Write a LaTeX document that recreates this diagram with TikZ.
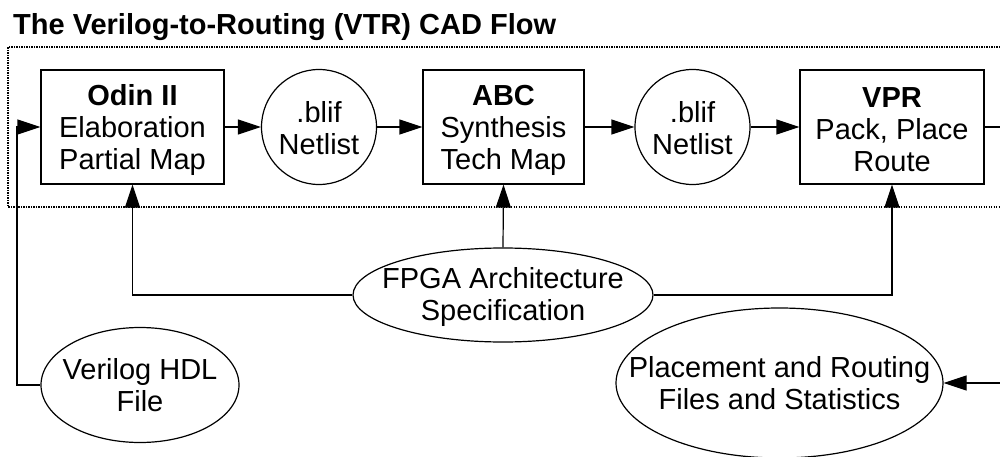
\documentclass[tikz,border=0pt]{standalone}
\usepackage{fontspec}
\setmainfont{Liberation Sans}
\usetikzlibrary{arrows.meta,shapes.geometric}
\begin{document}
\begin{tikzpicture}[x=1pt,y=-1pt,
  every node/.style={inner sep=0pt, align=center, font=\fontsize{29}{32.5}\selectfont},
  every label/.style={inner sep=0pt, align=center, font=\fontsize{29}{32}\selectfont},
  procbox/.style={draw, line width=1.2pt, rectangle, minimum height=114pt},
  filecirc/.style={draw, line width=1.2pt, circle, minimum size=115pt},
  fileell/.style={draw, line width=1.2pt, ellipse},
  conn/.style={line width=1.2pt, -{Triangle[length=23pt,width=15pt]}},
  group/.style={draw=black, line width=1.1pt, dash pattern=on 1.1pt off 1.4pt}
]
\useasboundingbox (0,0) rectangle (1000,457);
\clip (0,0) rectangle (1000,457);
\fill[white] (0,0) rectangle (1000,457);

\node[anchor=base west, font=\fontsize{29}{32}\selectfont\bfseries] (title) at (13,35) {The Verilog-to-Routing (VTR) CAD Flow};

\draw[group] (1020,47) -- (8,47) -- (8,207) -- (1020,207);

\node[procbox, minimum width=183pt, label={[yshift=-3pt]center:\textbf{Odin II}\\Elaboration\\Partial Map}] (odin) at (132.5,127) {};
\node[filecirc, label={[yshift=-1pt]center:.blif\\Netlist}] (blif1) at (319,127) {};
\node[procbox, minimum width=161pt, label={[yshift=-3pt]center:\textbf{ABC}\\Synthesis\\Tech Map}] (abc) at (503.5,127) {};
\node[filecirc, label={[yshift=-1pt]center:.blif\\Netlist}] (blif2) at (692.5,127) {};
\node[procbox, minimum width=184pt, label={[yshift=-3pt]center:\textbf{VPR}\\Pack, Place\\Route}] (vpr) at (892,127) {};

\node[fileell, minimum width=300pt, minimum height=94pt, label={[yshift=-2pt]center:FPGA Architecture\\Specification}] (fpga) at (503,295) {};
\node[fileell, minimum width=198pt, minimum height=115pt, label={center:Verilog HDL\\File}] (verilog) at (140,385) {};
\node[fileell, minimum width=327pt, minimum height=150pt, label={center:Placement and Routing\\Files and Statistics}] (place) at (779.5,383) {};

\coordinate (vin) at (17,385);
\coordinate (vout) at (1015,127);

\draw[conn] (odin) -- (blif1);
\draw[conn] (blif1) -- (abc);
\draw[conn] (abc) -- (blif2);
\draw[conn] (blif2) -- (vpr);
\draw[conn] (verilog.west) -- (vin) |- (odin.west);
\draw[conn] (fpga.west) -| (odin.south);
\draw[conn] (fpga.north) -- (abc.south);
\draw[conn] (fpga.east) -| (vpr.south);
\draw[conn] (vpr.east) -- (vout) |- (place.east);
\end{tikzpicture}
\end{document}
